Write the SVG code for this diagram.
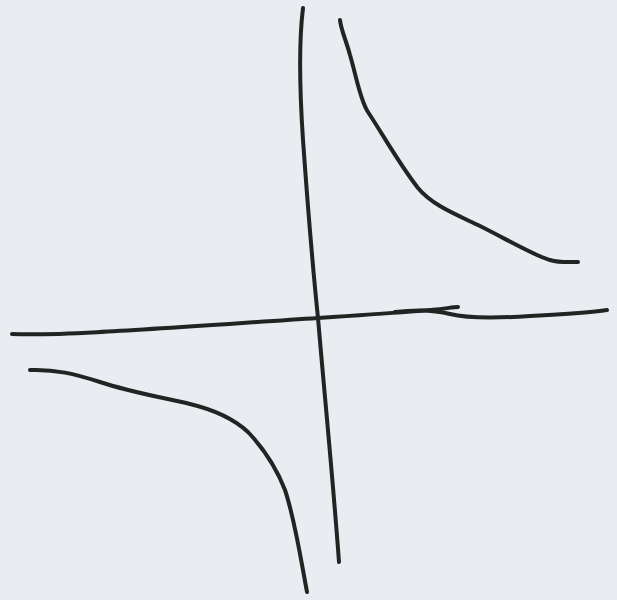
<svg xmlns="http://www.w3.org/2000/svg" width="617" height="600" viewBox="0 0 617 600">
<style>
.s{fill:none;stroke:#232323;stroke-width:4;stroke-linecap:round;stroke-linejoin:round}
</style>
<rect width="617" height="600" fill="#e9edf1"/>
<g id="axes">
<path class="s" d="M12,334 C60,336 150,329 318,318 S430,309 458,307"/>
<path class="s" d="M395,312 C420,309 435,310 450,314 C470,319 500,318 530,316 C570,314 595,312 607,310"/>
<path class="s" d="M303,8 C299,40 299,80 303,140 C308,210 312,260 318,318 C325,400 333,480 339,562"/>
</g>
<g id="curves">
<path class="s" d="M340,20 C341,30 346,40 350,55 C356,75 360,100 368,112 C385,138 400,165 418,188 C432,205 455,214 480,226 C510,241 535,256 550,260 C560,263 570,262 578,262"/>
<path class="s" d="M30,370 C55,369 75,374 100,382 C130,392 160,397 190,404 C215,410 235,420 248,432 C265,450 278,472 285,490 C295,520 300,555 307,592"/>
</g>
</svg>
